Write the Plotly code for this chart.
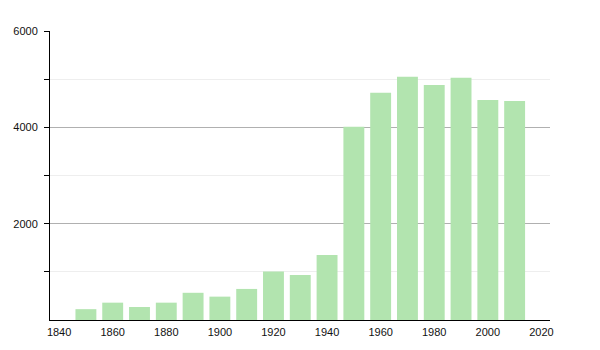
import plotly.graph_objects as go

years = [1850, 1860, 1870, 1880, 1890, 1900, 1910, 1920, 1930, 1940,
         1950, 1960, 1970, 1980, 1990, 2000, 2010]
population = [225, 360, 270, 360, 565, 485, 645, 1005, 935, 1350,
              4010, 4720, 5050, 4880, 5030, 4570, 4545]

x_ticks = [1840, 1860, 1880, 1900, 1920, 1940, 1960, 1980, 2000, 2020]
y_major = [2000, 4000, 6000]
y_minor = [1000, 3000, 5000]

fig = go.Figure(go.Bar(
    x=years, y=population, width=7.8,
    marker=dict(color="rgb(178,228,175)", line=dict(width=0)),
))

fig.update_layout(
    width=600, height=350,
    margin=dict(l=50, r=50, t=31, b=30),
    paper_bgcolor="white", plot_bgcolor="white",
    font=dict(family="Liberation Sans, Arial, sans-serif", size=11, color="#111"),
    showlegend=False,
    xaxis=dict(
        range=[1836.6, 2023.2], tickmode="array", tickvals=x_ticks,
        showgrid=False, zeroline=False, showline=True, linecolor="black",
        linewidth=1, ticks="", ticklabelstandoff=2,
    ),
    yaxis=dict(
        range=[0, 6000], tickmode="array", tickvals=y_major,
        showgrid=True, gridcolor="#b0b0b0", gridwidth=1,
        zeroline=False, showline=True, linecolor="black", linewidth=1,
        ticks="outside", ticklen=5, tickcolor="black", ticklabelstandoff=4,
        minor=dict(tickmode="array", tickvals=y_minor, showgrid=True,
                   gridcolor="#eeeeee", ticks="outside", ticklen=5,
                   tickcolor="black"),
    ),
)

fig.write_html("out.html")
